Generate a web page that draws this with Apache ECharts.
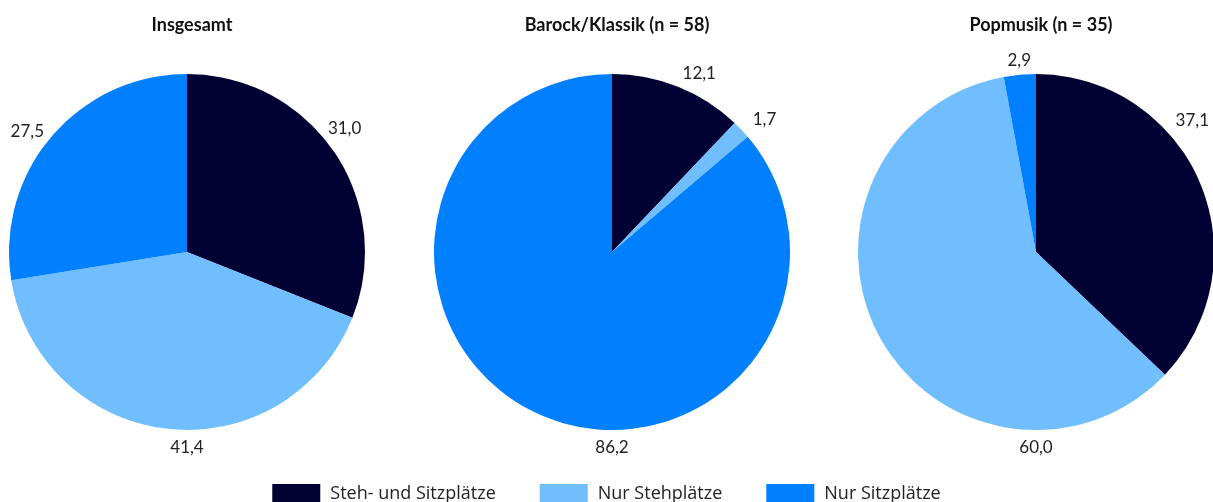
<!DOCTYPE html>
<html>
<head>
<meta charset="utf-8">
<script src="https://cdn.jsdelivr.net/npm/echarts@6/dist/echarts.min.js"></script>
<style>
html,body{margin:0;padding:0;background:#fff;}
#chart{width:1213px;height:502px;}
</style>
</head>
<body>
<div id="chart"></div>
<script>
// ---- data ----
var categories = ['Steh- und Sitzplätze', 'Nur Stehplätze', 'Nur Sitzplätze'];
var pieTitles = ['Insgesamt', 'Barock/Klassik (n = 58)', 'Popmusik (n = 35)'];
var insgesamt = [31.0, 41.4, 27.5];
var barockKlassik = [12.1, 1.7, 86.2];
var popmusik = [37.1, 60.0, 2.9];

// ---- layout / style ----
var colors = ['#000033', '#71BEFF', '#007FFF'];
var FONT = 'Lato, "Noto Sans", sans-serif';
var LEGEND_FONT = '"Open Sans", "Noto Sans", sans-serif';
var centersX = [187, 612, 1036];
var centerY = 252;
var R = 178;
// label placement angle (deg, clockwise from top) and distance from pie centre
var labelPlace = [
  [[52, 200], [180, 196], [307, 200]],
  [[26, 199], [49, 202], [180, 196]],
  [[50, 204], [180, 196], [355, 192]]
];

var seriesData = [insgesamt, barockKlassik, popmusik];

function fmt(v) { return v.toFixed(1).replace('.', ','); }

var chart = echarts.init(document.getElementById('chart'), null, {renderer: 'canvas'});

var series = seriesData.map(function (vals, si) {
  return {
    type: 'pie',
    name: pieTitles[si],
    center: [centersX[si], centerY],
    radius: [0, R],
    startAngle: 90,
    clockwise: true,
    avoidLabelOverlap: false,
    animation: false,
    itemStyle: {borderWidth: 0},
    emphasis: {disabled: true},
    label: {
      show: true,
      position: 'outside',
      fontFamily: FONT,
      fontSize: 17,
      color: '#222',
      formatter: function (p) { return fmt(p.value); }
    },
    labelLine: {show: false},
    labelLayout: function (p) {
      var pl = labelPlace[si][p.dataIndex];
      var a = pl[0] * Math.PI / 180;
      return {
        x: centersX[si] + pl[1] * Math.sin(a),
        y: centerY - pl[1] * Math.cos(a),
        align: 'center',
        verticalAlign: 'middle'
      };
    },
    data: vals.map(function (v, i) {
      return {name: categories[i], value: v, itemStyle: {color: colors[i]}};
    })
  };
});

var option = {
  backgroundColor: '#fff',
  animation: false,
  title: pieTitles.map(function (t, i) {
    return {
      text: t,
      left: centersX[i],
      top: 11,
      textAlign: 'center',
      textStyle: {fontFamily: FONT, fontWeight: 'bold', fontSize: 18, color: '#111'}
    };
  }),
  legend: {
    data: categories,
    top: 479,
    left: 'center',
    itemWidth: 48,
    itemHeight: 19,
    itemGap: 44,
    icon: 'rect',
    selectedMode: false,
    textStyle: {fontFamily: LEGEND_FONT, fontSize: 18, color: '#222', padding: [0, 0, 0, 5]}
  },
  series: series
};
chart.setOption(option);
</script>
</body>
</html>
